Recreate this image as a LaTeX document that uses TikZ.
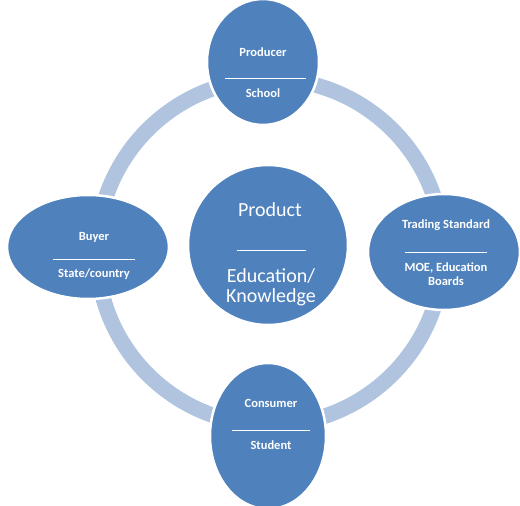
\documentclass[tikz,border=0pt]{standalone}
\usepackage{fontspec}
\setmainfont{Carlito}
\usetikzlibrary{shapes.geometric}
\definecolor{blob}{RGB}{79,129,189}
\definecolor{ringc}{RGB}{176,196,224}
\tikzset{
  blobshape/.style={ellipse, fill=blob, draw=white, line width=2.5pt, inner sep=0pt},
  lbl/.style={text=white, font=\bfseries\fontsize{12.5}{14}\selectfont, inner sep=0pt, align=center},
  biglbl/.style={text=white, font=\fontsize{20}{22}\selectfont, inner sep=0pt, align=center},
  sep/.style={white, line width=0.8pt}
}
\begin{document}
\begin{tikzpicture}[x=1pt,y=-1pt]
\useasboundingbox (0,0) rectangle (520,506);
% ring
\coordinate (rc) at (270,252);
\draw[ringc, line width=15.5pt] (rc) circle[radius=173];
% ellipses
\node[blobshape, minimum width=112, minimum height=126] (top) at (263,62) {};
\node[blobshape, minimum width=162, minimum height=104] (left) at (88,247) {};
\node[blobshape, minimum width=152, minimum height=116] (right) at (444,252) {};
\node[blobshape, minimum width=116, minimum height=146] (bottom) at (268,436) {};
\node[blobshape, circle, minimum size=160] (center) at (268,245) {};
% top
\node[lbl] (t1) at (263,52) {Producer};
\coordinate (ta) at (225,78); \coordinate (tb) at (306,78);
\draw[sep] (ta) -- (tb);
\node[lbl] (t2) at (263,93) {School};
% left
\node[lbl] (l1) at (94,237) {Buyer};
\coordinate (la) at (53,259); \coordinate (lb) at (135,259);
\draw[sep] (la) -- (lb);
\node[lbl] (l2) at (94,274) {State/country};
% right
\node[lbl] (r1) at (446,225) {Trading Standard};
\coordinate (ra) at (405,252); \coordinate (rb) at (487,252);
\draw[sep] (ra) -- (rb);
\node[lbl, font=\bfseries\fontsize{12.5}{14.5}\selectfont] (r2) at (446,274) {MOE, Education\\Boards};
% bottom
\node[lbl] (b1) at (271,403) {Consumer};
\coordinate (ba) at (232,430); \coordinate (bb) at (310,430);
\draw[sep] (ba) -- (bb);
\node[lbl] (b2) at (271,445) {Student};
% center
\node[biglbl] (c1) at (270,210) {Product};
\coordinate (ca) at (237,250); \coordinate (cb) at (306,250);
\draw[sep] (ca) -- (cb);
\node[biglbl, font=\fontsize{20}{20}\selectfont] (c2) at (271,287) {Education/\\Knowledge};
\end{tikzpicture}
\end{document}
